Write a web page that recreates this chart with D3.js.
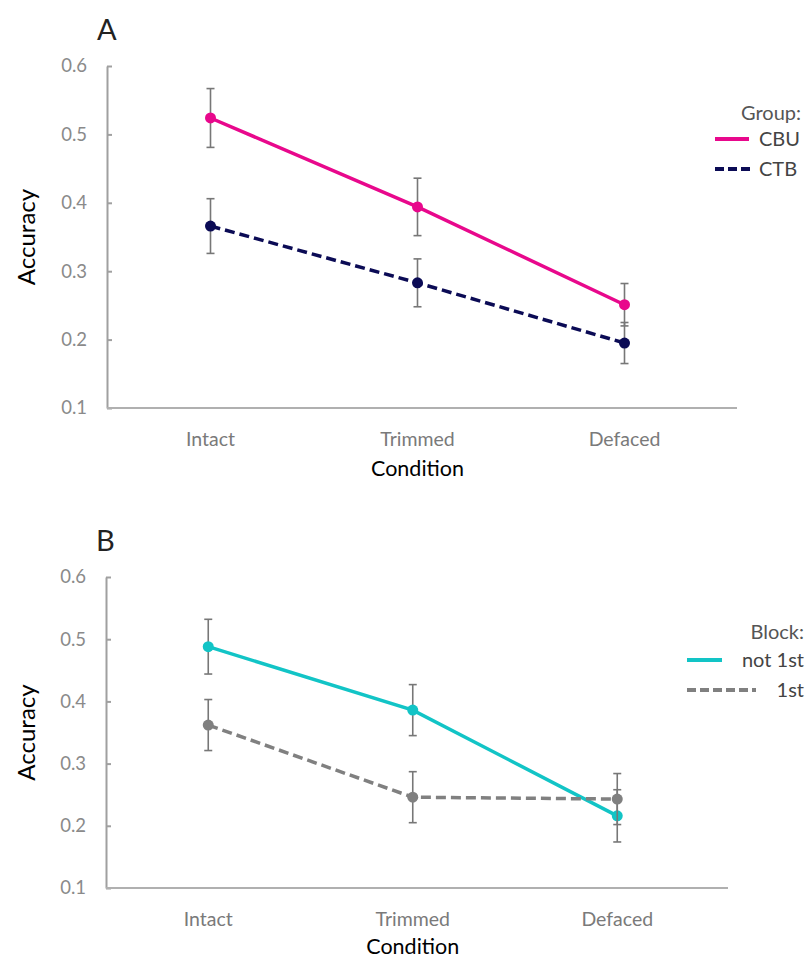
<!DOCTYPE html>
<html lang="en">
<head>
<meta charset="UTF-8" />
<title>Accuracy by condition</title>
<style>
  body { margin: 0; background: #fff; }
  svg { font-family: Lato, "Open Sans", sans-serif; }
</style>
</head>
<body>
<svg id="chart" width="807" height="963"></svg>
<script src="https://d3js.org/d3.v7.min.js"></script>
<script>
const conditions = ['Intact', 'Trimmed', 'Defaced'];
const yTicks = [0.1, 0.2, 0.3, 0.4, 0.5, 0.6];

// panel A: group
const cbuMean = [0.524, 0.394, 0.251];
const cbuErr  = [0.043, 0.042, 0.031];
const ctbMean = [0.366, 0.283, 0.195];
const ctbErr  = [0.040, 0.035, 0.030];

// panel B: block
const not1stMean = [0.488, 0.386, 0.216];
const not1stErr  = [0.044, 0.041, 0.042];
const firstMean  = [0.362, 0.246, 0.243];
const firstErr   = [0.041, 0.041, 0.041];

const svg = d3.select('#chart');

const panels = [
  {
    label: 'A', legendTitle: 'Group:',
    x0: 107, x1: 728, axisEnd: 737, yTop: 66, yBot: 408,
    labelY: 439, titleY: 476,
    legend: { titleX: 801, titleY: 113, lineX0: 715, lineX1: 749, textX: 759, rowY: [139, 169], dashX1: 751 },
    series: [
      { name: 'CBU', mean: cbuMean, err: cbuErr, color: '#e8088c', dash: null },
      { name: 'CTB', mean: ctbMean, err: ctbErr, color: '#0b0b55', dash: '10,5' }
    ]
  },
  {
    label: 'B', legendTitle: 'Block:',
    x0: 106, x1: 719.5, axisEnd: 728, yTop: 577, yBot: 888,
    labelY: 919, titleY: 954,
    legend: { titleX: 804, titleY: 632, lineX0: 687, lineX1: 722, textX: 804, rowY: [660, 690], dashX1: 756 },
    series: [
      { name: 'not 1st', mean: not1stMean, err: not1stErr, color: '#12c4c6', dash: null },
      { name: '1st', mean: firstMean, err: firstErr, color: '#808080', dash: '10,5' }
    ]
  }
];

panels.forEach(p => {
  const g = svg.append('g');

  const x = d3.scaleBand().domain(conditions).range([p.x0, p.x1]);
  const y = d3.scaleLinear().domain([0.1, 0.6]).range([p.yBot, p.yTop]);
  const cx = d => x(d) + x.bandwidth() / 2;

  // panel letter
  g.append('text')
    .attr('x', p.x0 - 10).attr('y', p.yTop - 26)
    .attr('font-size', 29).attr('fill', '#222')
    .text(p.label);

  // y axis
  const yAxis = g.append('g')
    .attr('transform', `translate(${p.x0},0)`)
    .call(d3.axisLeft(y).tickValues(yTicks).tickFormat(d3.format('.1f'))
      .tickSizeInner(-5).tickSizeOuter(0).tickPadding(20));
  yAxis.select('.domain').attr('stroke', '#a0a0a0').attr('stroke-width', 2);
  yAxis.selectAll('.tick line').attr('stroke', '#a0a0a0').attr('stroke-width', 2);
  yAxis.selectAll('.tick text').attr('font-size', 18.5).attr('fill', '#8a8a8a')
    .attr('font-family', 'Lato, sans-serif');

  // x axis
  const xAxis = g.append('g')
    .attr('transform', `translate(0,${p.yBot})`)
    .call(d3.axisBottom(x).tickSize(0).tickPadding(p.labelY - p.yBot - 7));
  xAxis.select('.domain').remove();
  xAxis.selectAll('.tick text').attr('font-size', 19.5).attr('fill', '#7a7a7a')
    .attr('font-family', 'Lato, sans-serif');
  g.append('line')
    .attr('x1', p.x0).attr('x2', p.axisEnd)
    .attr('y1', p.yBot).attr('y2', p.yBot)
    .attr('stroke', '#b0b0b0').attr('stroke-width', 2);

  // axis titles
  g.append('text')
    .attr('x', (p.x0 + p.x1) / 2).attr('y', p.titleY)
    .attr('text-anchor', 'middle').attr('font-size', 21.5).attr('fill', '#000')
    .text('Condition');
  g.append('text')
    .attr('transform', `translate(35,${(p.yTop + p.yBot) / 2}) rotate(-90)`)
    .attr('text-anchor', 'middle').attr('font-size', 24).attr('fill', '#000')
    .text('Accuracy');

  const line = d3.line().x(d => cx(d.c)).y(d => y(d.v));

  p.series.forEach(s => {
    const pts = conditions.map((c, i) => ({ c, v: s.mean[i], e: s.err[i] }));

    // error bars
    const eb = g.append('g').attr('stroke', '#777').attr('stroke-width', 1.6);
    pts.forEach(d => {
      eb.append('line').attr('x1', cx(d.c)).attr('x2', cx(d.c))
        .attr('y1', y(d.v + d.e)).attr('y2', y(d.v - d.e));
      [d.v + d.e, d.v - d.e].forEach(v => {
        eb.append('line').attr('x1', cx(d.c) - 4).attr('x2', cx(d.c) + 4)
          .attr('y1', y(v)).attr('y2', y(v));
      });
    });

    g.append('path').datum(pts)
      .attr('d', line).attr('fill', 'none')
      .attr('stroke', s.color).attr('stroke-width', 3.5)
      .attr('stroke-dasharray', s.dash);

    g.selectAll(null).data(pts).join('circle')
      .attr('cx', d => cx(d.c)).attr('cy', d => y(d.v)).attr('r', 5.5)
      .attr('fill', s.color);
  });

  // legend
  const L = p.legend;
  g.append('text')
    .attr('x', L.titleX).attr('y', L.titleY + 7)
    .attr('text-anchor', 'end').attr('font-size', 20).attr('fill', '#555')
    .text(p.legendTitle);
  p.series.forEach((s, i) => {
    g.append('line')
      .attr('x1', L.lineX0).attr('x2', s.dash ? L.dashX1 : L.lineX1)
      .attr('y1', L.rowY[i]).attr('y2', L.rowY[i])
      .attr('stroke', s.color).attr('stroke-width', 4)
      .attr('stroke-dasharray', s.dash ? '9,4' : null);
    const t = g.append('text')
      .attr('y', L.rowY[i] + 7).attr('font-size', 20).attr('fill', '#444')
      .text(s.name);
    if (p.label === 'A') t.attr('x', L.textX);
    else t.attr('x', L.textX).attr('text-anchor', 'end');
  });
});
</script>
</body>
</html>
